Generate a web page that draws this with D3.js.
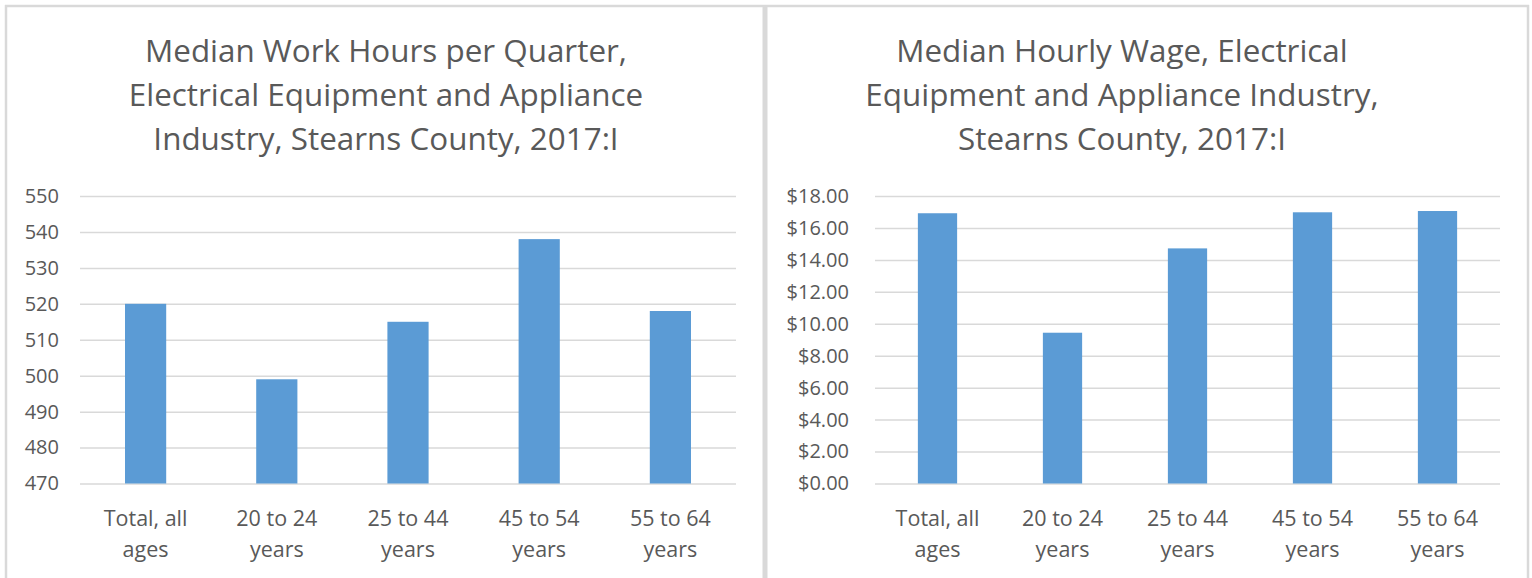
<!DOCTYPE html>
<meta charset="utf-8">
<style>
body { margin: 0; background: #fff; }
text { font-family: "Open Sans", sans-serif; fill: #595959; }
.grid line { stroke: #d9d9d9; stroke-width: 1.5; }
.bar { fill: #5b9bd5; }
.frame { stroke: #d9d9d9; }
</style>
<body>
<svg width="1532" height="578"></svg>
<script src="https://cdn.jsdelivr.net/npm/d3@7"></script>
<script>
// data
var categories = ["Total, all ages", "20 to 24 years", "25 to 44 years", "45 to 54 years", "55 to 64 years"];
var categoryLines = [["Total, all", "ages"], ["20 to 24", "years"], ["25 to 44", "years"], ["45 to 54", "years"], ["55 to 64", "years"]];
var hoursValues = [520, 499, 515, 538, 518];
var wageValues = [16.92, 9.44, 14.72, 16.98, 17.06];
var hoursTicks = [470, 480, 490, 500, 510, 520, 530, 540, 550];
var wageTicks = [0, 2, 4, 6, 8, 10, 12, 14, 16, 18];
var hoursTitle = ["Median Work Hours per Quarter,", "Electrical Equipment and Appliance", "Industry, Stearns County, 2017:I"];
var wageTitle = ["Median Hourly Wage, Electrical", "Equipment and Appliance Industry,", "Stearns County, 2017:I"];

var svg = d3.select("svg");

svg.append("rect").attr("width", 1532).attr("height", 578).attr("fill", "#fff");

// panel frames
svg.append("line").attr("class", "frame").attr("x1", 5).attr("x2", 1529).attr("y1", 6).attr("y2", 6).attr("stroke-width", 2.5);
svg.append("line").attr("class", "frame").attr("x1", 6).attr("x2", 6).attr("y1", 5).attr("y2", 578).attr("stroke-width", 2.5);
svg.append("line").attr("class", "frame").attr("x1", 765).attr("x2", 765).attr("y1", 5).attr("y2", 578).attr("stroke-width", 5);
svg.append("line").attr("class", "frame").attr("x1", 1528).attr("x2", 1528).attr("y1", 5).attr("y2", 578).attr("stroke-width", 2.5);

function drawChart(opts) {
  var x = d3.scaleBand()
      .domain(categories)
      .range([opts.left, opts.right])
      .paddingInner(0.686)
      .paddingOuter(0.343);

  var y = d3.scaleLinear()
      .domain([opts.ticks[0], opts.ticks[opts.ticks.length - 1]])
      .range([483.5, 196]);

  var g = svg.append("g");

  // title
  g.append("text")
      .attr("text-anchor", "middle")
      .style("font-size", "31.4px")
    .selectAll("tspan")
    .data(opts.title)
    .enter().append("tspan")
      .attr("x", opts.titleX)
      .attr("y", function(d, i) { return 62 + i * 44; })
      .text(function(d) { return d; });

  // gridlines + y labels
  var yAxis = g.append("g")
      .attr("class", "grid")
      .attr("transform", "translate(" + opts.left + ",0)")
      .call(d3.axisLeft(y)
        .tickValues(opts.ticks)
        .tickSize(-(opts.right - opts.left))
        .tickPadding(opts.left - opts.labelRight)
        .tickFormat(opts.format));
  yAxis.select(".domain").remove();
  yAxis.selectAll("text")
      .style("font-size", "20px")
      .attr("fill", "#595959");

  g.selectAll(".bar")
      .data(opts.values)
      .enter().append("rect")
      .attr("class", "bar")
      .attr("x", function(d, i) { return x(categories[i]); })
      .attr("width", x.bandwidth())
      .attr("y", function(d) { return y(d); })
      .attr("height", function(d) { return y.range()[0] - y(d); });

  // category labels on two lines
  var xLabels = g.append("g")
    .selectAll("text")
    .data(categoryLines)
    .enter().append("text")
      .attr("text-anchor", "middle")
      .style("font-size", "21.5px");
  xLabels.selectAll("tspan")
    .data(function(d, i) { return d.map(function(t) { return {t: t, c: categories[i]}; }); })
    .enter().append("tspan")
      .attr("x", function(d) { return x(d.c) + x.bandwidth() / 2; })
      .attr("y", function(d, j) { return 526 + j * 31; })
      .text(function(d) { return d.t; });
}

drawChart({
  title: hoursTitle,
  titleX: 386,
  values: hoursValues,
  ticks: hoursTicks,
  left: 80,
  right: 736,
  labelRight: 59,
  format: d3.format("d")
});

drawChart({
  title: wageTitle,
  titleX: 1122,
  values: wageValues,
  ticks: wageTicks,
  left: 875,
  right: 1500,
  labelRight: 849,
  format: function(d) { return "$" + d3.format(".2f")(d); }
});
</script>
</body>
